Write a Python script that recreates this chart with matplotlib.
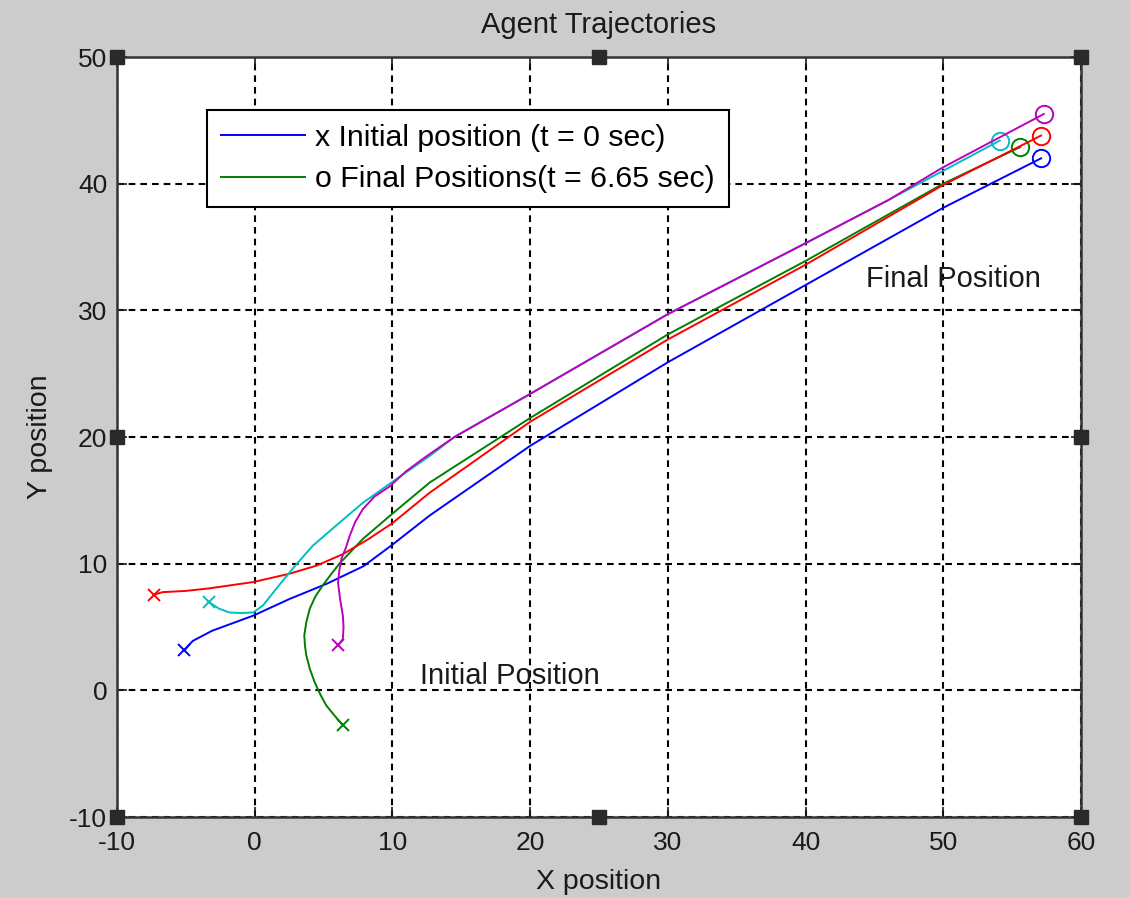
import matplotlib
matplotlib.use("Agg")
import matplotlib.pyplot as plt

plt.rcParams['font.family'] = ['Liberation Sans', 'DejaVu Sans']
plt.rcParams['axes.unicode_minus'] = False

# ---- data ----
blue_x = [-5.1, -4.8, -4.5, -3.1, -0.1, 2.5, 5.2, 7.9, 10.0, 12.7, 20.0, 30.0, 40.0, 50.0, 57.1]
blue_y = [3.15, 3.55, 3.9, 4.7, 5.9, 7.2, 8.4, 9.8, 11.5, 13.8, 19.3, 25.9, 32.0, 38.1, 42.0]

green_x = [6.4, 5.8, 5.2, 4.75, 4.35, 4.0, 3.75, 3.65, 3.6, 3.75, 4.0, 4.4, 4.95, 5.5, 6.15, 7.85, 10.0, 12.7, 20.0, 30.0, 40.0, 50.0, 55.6]
green_y = [-2.75, -2.0, -1.2, -0.3, 0.65, 1.7, 2.75, 3.5, 4.35, 5.4, 6.45, 7.4, 8.3, 9.1, 10.0, 11.95, 13.95, 16.4, 21.5, 28.1, 33.9, 40.0, 42.9]

red_x = [-7.3, -6.7, -5.0, -3.3, -0.1, 2.5, 4.5, 6.4, 8.2, 10.0, 12.7, 20.0, 30.0, 40.0, 50.0, 57.1]
red_y = [7.55, 7.75, 7.85, 8.05, 8.55, 9.2, 9.85, 10.75, 11.9, 13.2, 15.6, 21.2, 27.7, 33.6, 39.9, 43.8]

cyan_x = [-3.3, -2.6, -1.85, -1.0, -0.1, 0.6, 1.55, 2.75, 4.2, 5.9, 7.85, 10.05, 12.7, 14.5, 20.0, 30.0, 40.0, 46.0, 54.1]
cyan_y = [6.95, 6.45, 6.15, 6.1, 6.15, 6.7, 8.0, 9.6, 11.4, 13.0, 14.8, 16.5, 18.5, 20.0, 23.4, 29.7, 35.3, 38.7, 43.4]

magenta_x = [6.05, 6.4, 6.45, 6.4, 6.2, 6.05, 6.15, 6.3, 6.6, 6.9, 7.3, 7.85, 8.7, 9.8, 11.0, 12.5, 14.5, 20.0, 30.0, 40.0, 46.0, 50.0, 57.3]
magenta_y = [3.55, 4.05, 5.0, 5.9, 7.2, 8.5, 9.5, 10.4, 11.2, 12.2, 13.3, 14.3, 15.3, 16.1, 17.3, 18.5, 20.0, 23.4, 29.7, 35.3, 38.7, 41.3, 45.5]

agents = [
    (blue_x, blue_y, (0, 0, 1)),
    (green_x, green_y, (0, 0.5, 0)),
    (red_x, red_y, (1, 0, 0)),
    (cyan_x, cyan_y, (0, 0.75, 0.75)),
    (magenta_x, magenta_y, (0.75, 0, 0.75)),
]

legend_labels = ["x Initial position (t = 0 sec)", "o Final Positions(t = 6.65 sec)"]
x_ticks = [-10, 0, 10, 20, 30, 40, 50, 60]
y_ticks = [-10, 0, 10, 20, 30, 40, 50]

# ---- figure ----
W, H = 1130, 897
fig = plt.figure(figsize=(W / 100, H / 100), dpi=100, facecolor='#cccccc')
ax = fig.add_axes([117 / W, 1 - 817 / H, (1081 - 117) / W, (817 - 57) / H])
ax.set_facecolor('white')

lines = []
for xs, ys, c in agents:
    ln, = ax.plot(xs, ys, color=c, lw=1.4, solid_joinstyle='round')
    lines.append(ln)
    ax.plot(xs[0], ys[0], marker='x', color=c, ms=8, mew=1.4, ls='none')
    ax.plot(xs[-1], ys[-1], marker='o', color=c, ms=12.5, mew=1.4, mfc='none', ls='none')

ax.set_xlim(-10, 60)
ax.set_ylim(-10, 50)
ax.set_xticks(x_ticks)
ax.set_yticks(y_ticks)
ax.grid(True, color='black', linestyle=(0, (3.2, 2.4)), linewidth=1.5)
ax.tick_params(direction='in', length=7, width=1.2, top=True, right=True,
               labelsize=19, colors='#1a1a1a', pad=7)
ax.tick_params(axis='x', pad=10)
for s in ax.spines.values():
    s.set_linewidth(1.8)
    s.set_color('#333333')

ax.set_title("Agent Trajectories", fontsize=21, color='#1a1a1a', pad=17)
ax.set_xlabel("X position", fontsize=20.5, color='#1a1a1a', labelpad=10)
ax.set_ylabel("Y position", fontsize=20.5, color='#1a1a1a', labelpad=12)

ax.text(12.0, 1.1, "Initial Position", fontsize=21, color='#1a1a1a', va='center', ha='left')
ax.text(44.4, 32.5, "Final Position", fontsize=21, color='#1a1a1a', va='center', ha='left')

leg = ax.legend(lines[:2], legend_labels, loc='upper left',
                bbox_to_anchor=(90 / 964, 707 / 760), borderaxespad=0,
                fontsize=21.8, frameon=True, fancybox=False, framealpha=1,
                edgecolor='black', handlelength=2.8, handletextpad=0.33,
                labelspacing=0.45, borderpad=0.45)
leg.get_frame().set_linewidth(1.5)

# selection handles (MATLAB edit mode)
for hx, hy in [(0, 0), (0.5, 0), (1, 0), (0, 0.5), (1, 0.5), (0, 1), (0.5, 1), (1, 1)]:
    ax.plot(hx, hy, marker='s', ms=10, color='#2a2a2a', transform=ax.transAxes, clip_on=False, zorder=10)

fig.savefig("out.png", dpi=100, facecolor=fig.get_facecolor())
